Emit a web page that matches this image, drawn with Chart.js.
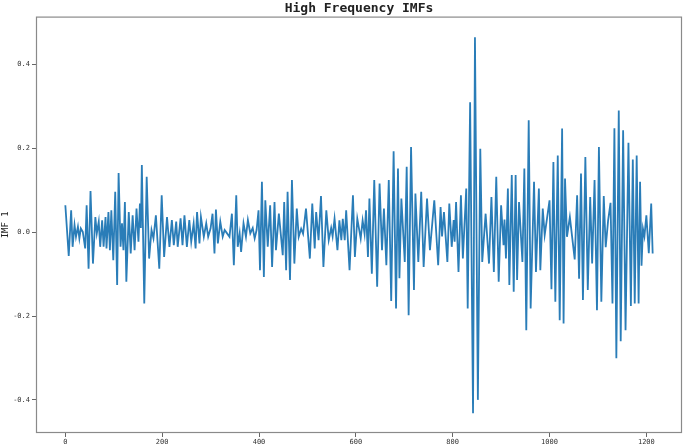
<!DOCTYPE html>
<html>
<head>
<meta charset="utf-8">
<script src="https://cdn.jsdelivr.net/npm/chart.js@4.4.1/dist/chart.umd.min.js"></script>
<style>
    html, body { margin: 0; padding: 0; background: #ffffff; }
    #wrap { width: 685px; height: 448px; position: relative; }
</style>
</head>
<body>
<div id="wrap"><canvas id="imfChart"></canvas></div>
<script>
// sample index of each turning point
const sampleIdx = [
    0, 7, 12, 15, 19, 22, 26, 29, 32, 36, 41, 44, 48, 52, 57, 62, 65, 69, 72, 76,
    79, 83, 85, 89, 92, 95, 99, 103, 107, 110, 114, 117, 120, 123, 126, 131, 135, 139, 143, 147,
    151, 154, 156, 158, 163, 168, 173, 178, 182, 187, 194, 199, 204, 210, 215, 220, 224, 229, 232, 238,
    242, 246, 251, 256, 260, 265, 269, 272, 277, 280, 286, 291, 295, 300, 304, 308, 311, 315, 320, 325,
    329, 334, 339, 344, 348, 353, 356, 360, 363, 368, 373, 377, 382, 387, 391, 395, 399, 402, 406, 410,
    413, 418, 423, 427, 432, 435, 441, 449, 452, 456, 459, 464, 468, 473, 478, 482, 487, 491, 497, 505,
    510, 515, 518, 523, 528, 533, 539, 544, 549, 552, 556, 562, 566, 570, 573, 577, 580, 587, 594, 598,
    603, 610, 614, 618, 621, 625, 628, 633, 638, 644, 649, 654, 658, 663, 668, 673, 678, 683, 687, 690,
    694, 701, 705, 709, 714, 720, 723, 729, 735, 740, 747, 753, 762, 770, 775, 778, 782, 789, 793, 798,
    802, 804, 807, 812, 817, 821, 828, 831, 836, 842, 846, 852, 857, 861, 868, 875, 880, 885, 890, 895,
    900, 905, 907, 910, 914, 917, 922, 926, 930, 933, 937, 944, 948, 952, 957, 961, 968, 972, 978, 981,
    986, 990, 1000, 1004, 1008, 1012, 1017, 1021, 1026, 1029, 1032, 1036, 1042, 1052, 1057, 1061, 1065, 1069, 1074, 1079,
    1084, 1088, 1093, 1098, 1102, 1107, 1112, 1116, 1121, 1126, 1130, 1134, 1138, 1143, 1147, 1152, 1157, 1163, 1168, 1172,
    1176, 1180, 1184, 1187, 1190, 1193, 1196, 1200, 1205, 1210, 1213
];

// IMF 1 value at those samples
const imf1 = [
    0.064, -0.057, 0.052, -0.035, 0.017, -0.011, 0.013, -0.015, 0.009, 0.001, -0.039, 0.064, -0.087, 0.098, -0.075, 0.036, -0.003, 0.025, -0.035, 0.028,
    -0.035, 0.036, -0.039, 0.048, -0.043, 0.052, -0.067, 0.096, -0.126, 0.141, -0.035, 0.021, -0.043, 0.072, -0.118, 0.048, -0.051, 0.040, -0.043, 0.056,
    -0.023, 0.068, 0.010, 0.160, -0.170, 0.132, -0.063, 0.005, -0.015, 0.040, -0.087, 0.088, -0.059, 0.036, -0.035, 0.029, -0.031, 0.025, -0.035, 0.033,
    -0.031, 0.040, -0.035, 0.029, -0.023, 0.021, -0.039, 0.048, -0.027, 0.036, -0.011, 0.021, -0.011, 0.009, 0.044, -0.051, 0.054, -0.027, 0.025, -0.011,
    0.005, -0.003, -0.011, 0.044, -0.079, 0.088, -0.035, -0.003, -0.047, 0.021, -0.011, 0.029, -0.003, 0.010, -0.015, 0.005, 0.052, -0.091, 0.120, -0.107,
    0.076, -0.035, 0.064, -0.083, 0.072, -0.043, 0.044, -0.055, 0.072, -0.091, 0.096, -0.114, 0.124, -0.075, 0.056, -0.011, 0.008, -0.004, 0.056, -0.063,
    0.068, -0.039, 0.048, -0.019, 0.086, -0.083, 0.052, -0.019, 0.010, -0.010, 0.032, -0.043, 0.028, -0.019, 0.032, -0.019, 0.052, -0.091, 0.088, -0.059,
    0.032, -0.015, 0.028, -0.004, 0.052, -0.059, 0.080, -0.099, 0.124, -0.130, 0.116, -0.043, 0.056, -0.079, 0.124, -0.164, 0.193, -0.182, 0.152, -0.110,
    0.080, -0.071, 0.156, -0.198, 0.203, -0.138, 0.092, -0.071, 0.096, -0.083, 0.080, -0.043, 0.076, -0.079, 0.060, -0.010, 0.048, -0.071, 0.068, -0.035,
    0.029, -0.023, 0.072, -0.095, 0.088, -0.063, 0.104, -0.182, 0.310, -0.432, 0.465, -0.400, 0.199, -0.071, 0.044, -0.075, 0.084, -0.095, 0.132, -0.118,
    0.064, -0.031, 0.030, -0.063, 0.104, -0.126, 0.136, -0.142, 0.136, -0.114, 0.072, -0.071, 0.152, -0.234, 0.267, -0.182, 0.120, -0.095, 0.104, -0.091,
    0.056, -0.007, 0.076, -0.136, 0.167, -0.166, 0.183, -0.210, 0.247, -0.218, 0.128, -0.011, 0.036, -0.065, 0.088, -0.111, 0.140, -0.162, 0.179, -0.138,
    0.084, -0.075, 0.124, -0.186, 0.203, -0.166, 0.086, -0.036, 0.028, 0.070, -0.170, 0.248, -0.301, 0.290, -0.260, 0.243, -0.234, 0.213, -0.176, 0.173,
    -0.170, 0.183, -0.170, 0.120, -0.080, 0.008, -0.010, 0.040, -0.050, 0.068, -0.051
];

const xTicks = [0, 200, 400, 600, 800, 1000, 1200];
const yTicks = [-0.4, -0.2, 0.0, 0.2, 0.4];

const tickFont = { family: 'DejaVu Sans Mono', size: 7 };

// matplotlib style box round the axes
const frame_plugin = {
    id: 'frame',
    afterDatasetsDraw(chart) {
        const a = chart.chartArea;
        const c = chart.ctx;
        c.save();
        c.strokeStyle = '#8a8a8a';
        c.lineWidth = 1.2;
        c.strokeRect(a.left + 0.5, a.top + 0.5, a.right - a.left - 1, a.bottom - a.top - 1);
        c.restore();
    }
};

window.onload = () => {
    const points = sampleIdx.map((x, i) => ({ x: x, y: imf1[i] }));
    const ctx = document.getElementById('imfChart').getContext('2d');
    new Chart(ctx, {
        type: 'line',
        data: {
            datasets: [{
                label: 'IMF 1',
                data: points,
                borderColor: '#2a7db8',
                borderWidth: 1.8,
                pointRadius: 0,
                tension: 0,
                fill: false
            }]
        },
        plugins: [frame_plugin],
        options: {
            responsive: true,
            maintainAspectRatio: false,
            animation: false,
            layout: { padding: { left: 0, right: 3, top: 1, bottom: 0 } },
            plugins: {
                legend: { display: false },
                tooltip: { enabled: false },
                title: {
                    display: true,
                    text: 'High Frequency IMFs',
                    fullSize: false,
                    color: '#222',
                    font: { family: 'DejaVu Sans Mono', size: 13, weight: 'bold' },
                    padding: { top: 0, bottom: 0 }
                }
            },
            scales: {
                x: {
                    type: 'linear',
                    min: -60.6,
                    max: 1273.6,
                    afterBuildTicks: (scale) => { scale.ticks = xTicks.map(v => ({ value: v })); },
                    afterFit: (scale) => { scale.height = 15; },
                    ticks: {
                        color: '#333',
                        font: tickFont,
                        padding: 1,
                        maxRotation: 0,
                        callback: (v) => String(v)
                    },
                    grid: { drawOnChartArea: false, drawTicks: true, tickLength: 4, color: '#666' },
                    border: { display: false }
                },
                y: {
                    min: -0.479,
                    max: 0.514,
                    afterBuildTicks: (scale) => { scale.ticks = yTicks.map(v => ({ value: v })); },
                    afterFit: (scale) => { scale.width = 36; },
                    title: {
                        display: true,
                        text: 'IMF 1',
                        color: '#222',
                        font: { family: 'DejaVu Sans Mono', size: 9 },
                        padding: { top: 0, bottom: 0 }
                    },
                    ticks: {
                        color: '#333',
                        font: tickFont,
                        padding: 2,
                        callback: (v) => v.toFixed(1)
                    },
                    grid: { drawOnChartArea: false, drawTicks: true, tickLength: 4, color: '#666' },
                    border: { display: false }
                }
            }
        }
    });
}
</script>
</body>
</html>
